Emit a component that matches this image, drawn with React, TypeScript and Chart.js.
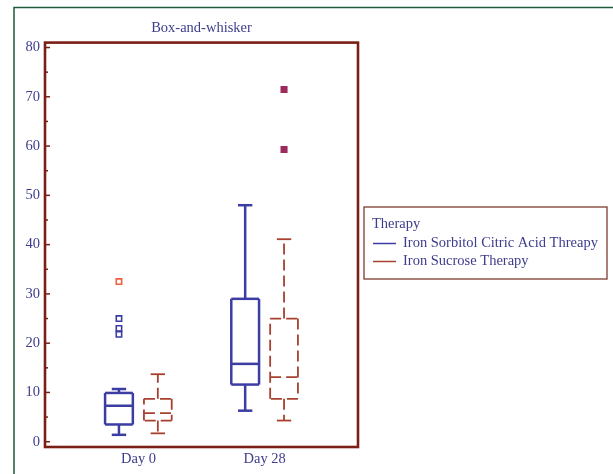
import React, { useEffect, useRef } from 'react';
import { Chart, registerables } from 'chart.js';

Chart.register(...registerables);

// ---------- data ----------
const categories = ['Day 0', 'Day 28'];
const seriesNames = ['Iron Sorbitol Citric Acid Threapy', 'Iron Sucrose Therapy'];
const legendTitle = 'Therapy';
const chartTitle = 'Box-and-whisker';

const yTickValues = [0, 10, 20, 30, 40, 50, 60, 70, 80];
const yMinorTickValues = [5, 15, 25, 35, 45, 55, 65, 75];

// Iron Sorbitol Citric Acid (per category)
const sorbitolMin = [1.4, 6.3];
const sorbitolQ1 = [3.5, 11.6];
const sorbitolMedian = [7.3, 15.8];
const sorbitolQ3 = [9.9, 29.0];
const sorbitolMax = [10.7, 48.0];
const sorbitolOutliers = [[21.8, 23.0, 25.0], []];
const sorbitolFarOutliers = [[32.5], []];

// Iron Sucrose (per category)
const sucroseMin = [1.7, 4.3];
const sucroseQ1 = [4.3, 8.7];
const sucroseMedian = [5.8, 13.1];
const sucroseQ3 = [8.7, 25.0];
const sucroseMax = [13.7, 41.1];
const sucroseOutliers = [[], []];
const sucroseFarOutliers = [[], [59.3, 71.5]];

// ---------- styles ----------
const FONT = '"Liberation Serif", "Times New Roman", serif';
const BLUE = '#3B3DA3';
const RED = '#A8402F';
const FRAME = '#7A1E16';
const TEXT = '#3D3D8C';
const GREEN = '#1F5A38';
const CORAL = '#F0603F';
const PURPLE = '#9C2B5C';
const seriesColors = [BLUE, RED];
const seriesOffsets = [-0.155, 0.153];
const seriesDash = [[], [11, 5]];
const seriesWidth = [2.5, 1.8];
const BOX_HALF = 0.11;
const CAP_HALF = 0.057;

const boxStats = [
  { min: sorbitolMin, q1: sorbitolQ1, med: sorbitolMedian, q3: sorbitolQ3, max: sorbitolMax },
  { min: sucroseMin, q1: sucroseQ1, med: sucroseMedian, q3: sucroseQ3, max: sucroseMax },
];

const toPoints = (lists: number[][], s: number) =>
  lists.flatMap((vals, i) => vals.map((v) => ({ x: i + seriesOffsets[s], y: v })));

const boxPlugin = {
  id: 'boxes',
  beforeDatasetsDraw(chart: any) {
    const { ctx } = chart;
    const xs = chart.scales.x;
    const ys = chart.scales.y;
    boxStats.forEach((st, s) => {
      categories.forEach((_, i) => {
        const xv = i + seriesOffsets[s];
        const xc = xs.getPixelForValue(xv);
        const xl = xs.getPixelForValue(xv - BOX_HALF);
        const xr = xs.getPixelForValue(xv + BOX_HALF);
        const cl = xs.getPixelForValue(xv - CAP_HALF);
        const cr = xs.getPixelForValue(xv + CAP_HALF);
        const yMin = ys.getPixelForValue(st.min[i]);
        const yQ1 = ys.getPixelForValue(st.q1[i]);
        const yMed = ys.getPixelForValue(st.med[i]);
        const yQ3 = ys.getPixelForValue(st.q3[i]);
        const yMax = ys.getPixelForValue(st.max[i]);
        ctx.save();
        ctx.strokeStyle = seriesColors[s];
        ctx.lineWidth = seriesWidth[s];
        ctx.setLineDash(seriesDash[s]);
        const line = (x1: number, y1: number, x2: number, y2: number) => {
          ctx.beginPath();
          ctx.moveTo(x1, y1);
          ctx.lineTo(x2, y2);
          ctx.stroke();
        };
        // box
        line(xl, yQ3, xr, yQ3);
        line(xr, yQ3, xr, yQ1);
        line(xr, yQ1, xl, yQ1);
        line(xl, yQ1, xl, yQ3);
        // median
        line(xl, yMed, xr, yMed);
        // whiskers
        line(xc, yQ3, xc, yMax);
        line(xc, yQ1, xc, yMin);
        ctx.setLineDash([]);
        line(cl, yMax, cr, yMax);
        line(cl, yMin, cr, yMin);
        ctx.restore();
      });
    });
  },
};

const framePlugin = {
  id: 'frame',
  beforeDraw(chart: any) {
    const { ctx } = chart;
    ctx.save();
    ctx.strokeStyle = GREEN;
    ctx.lineWidth = 1.5;
    ctx.beginPath();
    ctx.moveTo(14, chart.height);
    ctx.lineTo(14, 7.5);
    ctx.lineTo(chart.width, 7.5);
    ctx.stroke();
    ctx.restore();
  },
  afterDraw(chart: any) {
    const { ctx, chartArea: a } = chart;
    const ys = chart.scales.y;
    ctx.save();
    ctx.strokeStyle = FRAME;
    ctx.lineWidth = 1.5;
    yTickValues.forEach((v) => {
      const y = ys.getPixelForValue(v);
      ctx.beginPath();
      ctx.moveTo(a.left, y);
      ctx.lineTo(a.left + 5, y);
      ctx.stroke();
    });
    yMinorTickValues.forEach((v) => {
      const y = ys.getPixelForValue(v);
      ctx.beginPath();
      ctx.moveTo(a.left, y);
      ctx.lineTo(a.left + 3, y);
      ctx.stroke();
    });
    ctx.lineWidth = 2.6;
    ctx.strokeRect(a.left, a.top, a.right - a.left, a.bottom - a.top);

    // legend
    const lx = a.right + 6;
    const ly = 207;
    ctx.lineWidth = 1.3;
    ctx.strokeStyle = '#7E3A30';
    ctx.strokeRect(lx, ly, 243, 72);
    ctx.font = `14.5px ${FONT}`;
    ctx.textBaseline = 'middle';
    ctx.textAlign = 'left';
    ctx.fillStyle = TEXT;
    ctx.fillText(legendTitle, lx + 8, ly + 17);
    seriesNames.forEach((name, s) => {
      const yy = ly + 36 + s * 18;
      ctx.strokeStyle = seriesColors[s];
      ctx.lineWidth = 1.5;
      ctx.beginPath();
      ctx.moveTo(lx + 9, yy + 0.5);
      ctx.lineTo(lx + 32, yy + 0.5);
      ctx.stroke();
      ctx.fillStyle = TEXT;
      ctx.fillText(name, lx + 39, yy);
    });
    ctx.restore();
  },
};

export default function App() {
  const ref = useRef<HTMLCanvasElement>(null);
  useEffect(() => {
    const canvas = ref.current!;
    const chart = new Chart(canvas, {
      type: 'scatter',
      data: {
        datasets: [
          {
            label: seriesNames[0] + ' outliers',
            data: toPoints(sorbitolOutliers, 0),
            pointStyle: 'rect',
            radius: 3.8,
            borderColor: BLUE,
            backgroundColor: 'rgba(255,255,255,0)',
            borderWidth: 1.6,
          },
          {
            label: seriesNames[0] + ' far outliers',
            data: toPoints(sorbitolFarOutliers, 0),
            pointStyle: 'rect',
            radius: 3.8,
            borderColor: CORAL,
            backgroundColor: 'rgba(255,255,255,0)',
            borderWidth: 1.6,
          },
          {
            label: seriesNames[1] + ' outliers',
            data: toPoints(sucroseOutliers, 1),
            pointStyle: 'rect',
            radius: 3.8,
            borderColor: RED,
            backgroundColor: 'rgba(255,255,255,0)',
            borderWidth: 1.6,
          },
          {
            label: seriesNames[1] + ' far outliers',
            data: toPoints(sucroseFarOutliers, 1),
            pointStyle: 'rect',
            radius: 5,
            borderColor: PURPLE,
            backgroundColor: PURPLE,
            borderWidth: 0,
          },
        ],
      },
      options: {
        responsive: false,
        animation: false,
        devicePixelRatio: 1,
        layout: { padding: { left: 0, right: 255, top: 0, bottom: 0 }, autoPadding: false },
        plugins: {
          legend: { display: false },
          tooltip: { enabled: false },
          title: {
            display: true,
            text: chartTitle,
            fullSize: false,
            color: TEXT,
            font: { family: FONT, size: 14.5, weight: 'normal' },
            padding: { top: 19.3, bottom: 5.9 },
          },
        },
        scales: {
          x: {
            type: 'linear',
            min: -0.741,
            max: 1.739,
            grid: { display: false, drawTicks: false },
            border: { display: false },
            afterBuildTicks: (s: any) => {
              s.ticks = categories.map((_, i) => ({ value: i }));
            },
            afterFit: (s: any) => {
              s.height = 27;
            },
            ticks: {
              autoSkip: false,
              maxRotation: 0,
              padding: 3,
              color: TEXT,
              font: { family: FONT, size: 14.5 },
              callback: (v: any) => categories[v] ?? '',
            },
          },
          y: {
            type: 'linear',
            min: -1.07,
            max: 81.0,
            grid: { display: false, drawTicks: false },
            border: { display: false },
            afterBuildTicks: (s: any) => {
              s.ticks = yTickValues.map((v) => ({ value: v }));
            },
            afterFit: (s: any) => {
              s.width = 45;
            },
            ticks: {
              padding: 5,
              color: TEXT,
              font: { family: FONT, size: 14.5 },
            },
          },
        },
      },
      plugins: [boxPlugin, framePlugin],
    } as any);
    return () => chart.destroy();
  }, []);
  return (
    <div style={{ position: 'absolute', left: 0, top: 0, width: 613, height: 474, background: '#fff' }}>
      <canvas ref={ref} width={613} height={474} style={{ width: 613, height: 474, display: 'block' }} />
    </div>
  );
}
